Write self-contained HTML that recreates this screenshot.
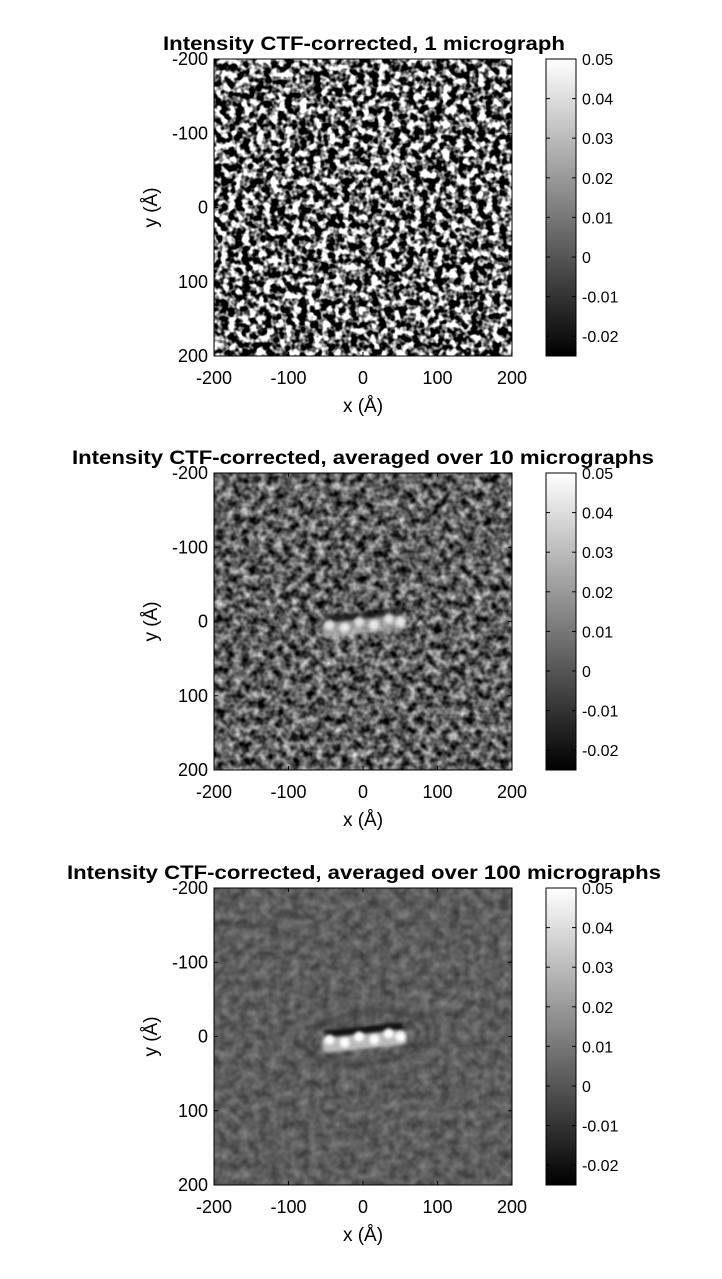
<!DOCTYPE html>
<html><head><meta charset="utf-8"><style>
body{margin:0;background:#fff;}
svg text{font-family:"Liberation Sans",sans-serif;fill:#000;}
</style></head><body>
<svg id="fig" width="722" height="1274" viewBox="0 0 722 1274" xmlns="http://www.w3.org/2000/svg" color-interpolation-filters="sRGB">
<defs>
<linearGradient id="cbg" x1="0" y1="1" x2="0" y2="0"><stop offset="0" stop-color="#000"/><stop offset="1" stop-color="#fff"/></linearGradient>
<filter id="n1" x="0" y="0" width="100%" height="100%" color-interpolation-filters="sRGB"><feTurbulence type="fractalNoise" baseFrequency="0.14" numOctaves="2" seed="3"/><feColorMatrix type="matrix" values="1 0 0 0 0 1 0 0 0 0 1 0 0 0 0 0 0 0 0 1"/><feComponentTransfer><feFuncR type="linear" slope="4" intercept="-1.6"/><feFuncG type="linear" slope="4" intercept="-1.6"/><feFuncB type="linear" slope="4" intercept="-1.6"/></feComponentTransfer></filter>
<filter id="n2" x="0" y="0" width="100%" height="100%" color-interpolation-filters="sRGB"><feTurbulence type="fractalNoise" baseFrequency="0.12" numOctaves="2" seed="7"/><feColorMatrix type="matrix" values="1 0 0 0 0 1 0 0 0 0 1 0 0 0 0 0 0 0 0 1"/><feComponentTransfer><feFuncR type="linear" slope="1.3" intercept="-0.28"/><feFuncG type="linear" slope="1.3" intercept="-0.28"/><feFuncB type="linear" slope="1.3" intercept="-0.28"/></feComponentTransfer></filter>
<filter id="n3" x="0" y="0" width="100%" height="100%" color-interpolation-filters="sRGB"><feTurbulence type="fractalNoise" baseFrequency="0.1" numOctaves="2" seed="11"/><feColorMatrix type="matrix" values="1 0 0 0 0 1 0 0 0 0 1 0 0 0 0 0 0 0 0 1"/><feComponentTransfer><feFuncR type="linear" slope="0.35" intercept="0.19"/><feFuncG type="linear" slope="0.35" intercept="0.19"/><feFuncB type="linear" slope="0.35" intercept="0.19"/></feComponentTransfer></filter>
<filter id="blur" x="-50%" y="-50%" width="200%" height="200%" color-interpolation-filters="sRGB"><feGaussianBlur stdDeviation="2.5"/></filter>
<filter id="blur1" x="-50%" y="-50%" width="200%" height="200%" color-interpolation-filters="sRGB"><feGaussianBlur stdDeviation="1.5"/></filter>
</defs>
<g id="panels"></g>
</svg>
<script>
const titles=["Intensity CTF-corrected, 1 micrograph","Intensity CTF-corrected, averaged over 10 micrographs","Intensity CTF-corrected, averaged over 100 micrographs"];
const titleWidths=[402,582,594];
const axisTicks=[-200,-100,0,100,200];
const cbTicks=[0.05,0.04,0.03,0.02,0.01,0,-0.01,-0.02];
const cbRange=[-0.025,0.05];
const particleStrength=[0,0.75,1];
const NS="http://www.w3.org/2000/svg";
const root=document.getElementById('panels');
function mk(tag,attrs,parent){const e=document.createElementNS(NS,tag);for(const k in attrs)e.setAttribute(k,attrs[k]);parent.appendChild(e);return e;}
const L=214,R=512,W=R-L,CBX=546,CBW=30;
const tops=[59,473,888];
tops.forEach((T,i)=>{
  const B=T+297;
  const g=mk('g',{},root);
  
  
  const sx=v=>L+(v+200)/400*W, sy=v=>T+(v+200)/400*297;
  const cy=v=>B-(v-cbRange[0])/(cbRange[1]-cbRange[0])*297;
  const t=mk('text',{x:(L+R)/2+(i==0?1:i==1?0:1),y:T-9,'text-anchor':'middle','font-size':19,'font-weight':'bold',textLength:titleWidths[i],lengthAdjust:'spacingAndGlyphs'},g);
  t.textContent=titles[i];
  
  
  const img=mk('rect',{x:L,y:T,width:W,height:297,filter:'url(#n'+(i+1)+')'},g);
  
  
  if(particleStrength[i]>0){
    const s=particleStrength[i];
    const p=mk('g',{transform:`rotate(-6 ${sx(5)} ${sy(2)})`},g);
    
    
    if(i==2){
      mk('ellipse',{cx:sx(5),cy:sy(2),rx:78,ry:36,fill:'none',stroke:'#6a6a6a','stroke-width':3,filter:'url(#blur)',opacity:0.8},p);
      mk('ellipse',{cx:sx(5),cy:sy(2),rx:62,ry:26,fill:'none',stroke:'#3a3a3a','stroke-width':4,filter:'url(#blur)',opacity:0.8},p);
    }
    mk('rect',{x:sx(-50),y:sy(-14),width:sx(55)-sx(-50),height:12,fill:'#111',filter:'url(#blur1)',opacity:s},p);
    mk('rect',{x:sx(-55),y:sy(-4),width:sx(58)-sx(-55),height:15,fill:'#bbb',rx:5,filter:'url(#blur1)',opacity:s},p);
    [-45,-25,-5,15,35,50].forEach((v,k)=>{mk('circle',{cx:sx(v),cy:sy(k%2?5:-1),r:5,fill:'#fff',filter:'url(#blur1)',opacity:s},p);});
  }
  mk('rect',{x:L,y:T,width:W,height:297,fill:'none',stroke:'#000','stroke-width':1},g);
  axisTicks.forEach(v=>{
    mk('line',{x1:sx(v),y1:B,x2:sx(v),y2:B-4,stroke:'#000'},g);
    mk('line',{x1:sx(v),y1:T,x2:sx(v),y2:T+4,stroke:'#000'},g);
    mk('line',{x1:L,y1:sy(v),x2:L+4,y2:sy(v),stroke:'#000'},g);
    mk('line',{x1:R,y1:sy(v),x2:R-4,y2:sy(v),stroke:'#000'},g);
    const xl=mk('text',{x:sx(v),y:B+28,'text-anchor':'middle','font-size':18},g);xl.textContent=v;
    
    
    const yl=mk('text',{x:L-6,y:sy(v)+6,'text-anchor':'end','font-size':18},g);yl.textContent=v;
    
    
  });
  const xt=mk('text',{x:(L+R)/2,y:B+56,'text-anchor':'middle','font-size':19},g);xt.textContent='x (Å)';
  
  
  const yt=mk('text',{x:0,y:0,'text-anchor':'middle','font-size':19,transform:`translate(157 ${(T+B)/2}) rotate(-90)`},g);yt.textContent='y (Å)';
  
  
  const cb=mk('rect',{x:CBX,y:T,width:CBW,height:297,fill:'url(#cbg)',stroke:'#000','stroke-width':1},g);
  
  
  cbTicks.forEach(v=>{
    const y=cy(v);
    mk('line',{x1:CBX,y1:y,x2:CBX+4,y2:y,stroke:'#000'},g);
    mk('line',{x1:CBX+CBW,y1:y,x2:CBX+CBW-4,y2:y,stroke:'#000'},g);
    const cl=mk('text',{x:CBX+CBW+6,y:y+6,'font-size':16},g);cl.textContent=v;
    
    
  });
});
</script>
</body></html>
